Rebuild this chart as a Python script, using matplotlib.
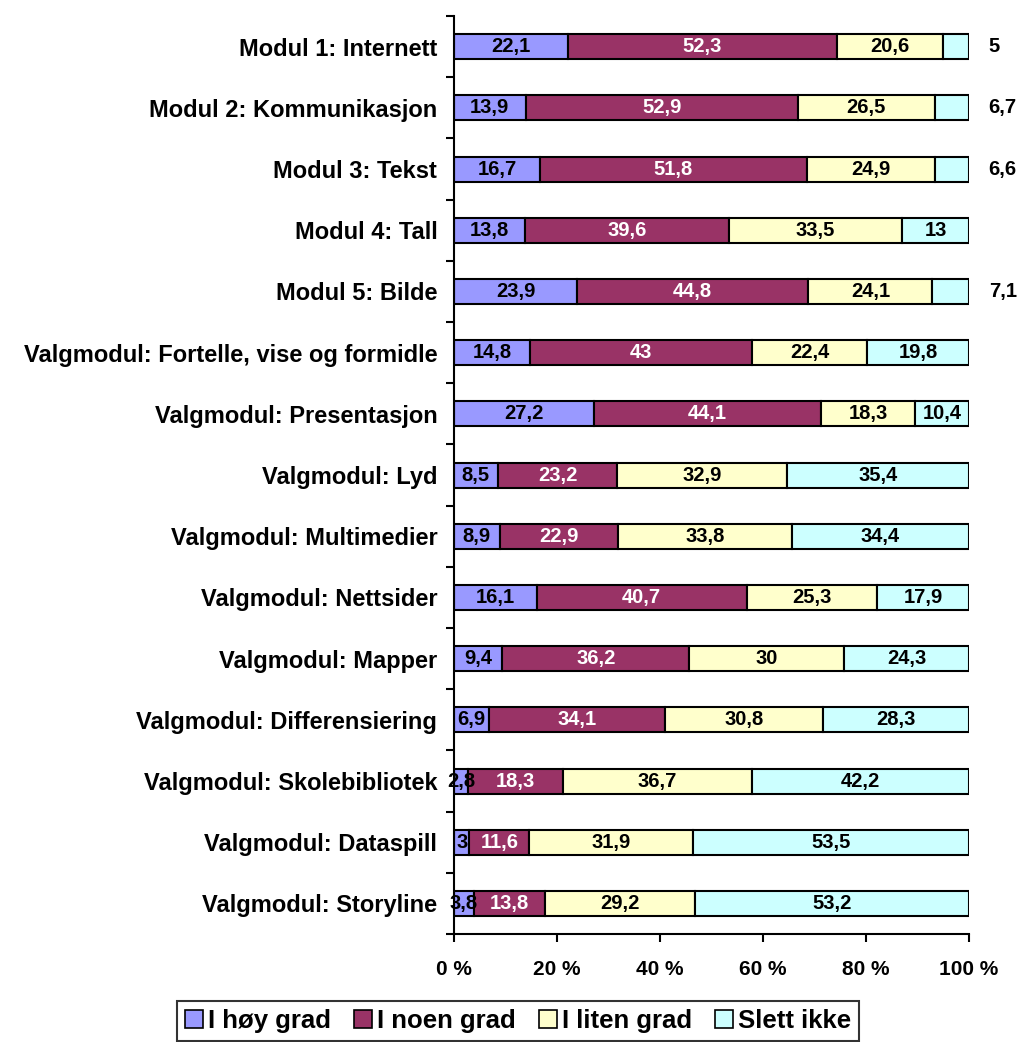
import numpy as np
import matplotlib
matplotlib.use('Agg')
import matplotlib.pyplot as plt
from matplotlib.ticker import FixedLocator

plt.rcParams['font.family'] = ['Liberation Sans', 'DejaVu Sans']
plt.rcParams['font.weight'] = 'bold'

categories = ['Modul 1: Internett', 'Modul 2: Kommunikasjon', 'Modul 3: Tekst',
              'Modul 4: Tall', 'Modul 5: Bilde',
              'Valgmodul: Fortelle, vise og formidle', 'Valgmodul: Presentasjon',
              'Valgmodul: Lyd', 'Valgmodul: Multimedier', 'Valgmodul: Nettsider',
              'Valgmodul: Mapper', 'Valgmodul: Differensiering',
              'Valgmodul: Skolebibliotek', 'Valgmodul: Dataspill',
              'Valgmodul: Storyline']
series_names = ['I høy grad', 'I noen grad', 'I liten grad', 'Slett ikke']
hoy = [22.1, 13.9, 16.7, 13.8, 23.9, 14.8, 27.2, 8.5, 8.9, 16.1, 9.4, 6.9, 2.8, 3, 3.8]
noen = [52.3, 52.9, 51.8, 39.6, 44.8, 43, 44.1, 23.2, 22.9, 40.7, 36.2, 34.1, 18.3, 11.6, 13.8]
liten = [20.6, 26.5, 24.9, 33.5, 24.1, 22.4, 18.3, 32.9, 33.8, 25.3, 30, 30.8, 36.7, 31.9, 29.2]
slett = [5, 6.7, 6.6, 13, 7.1, 19.8, 10.4, 35.4, 34.4, 17.9, 24.3, 28.3, 42.2, 53.5, 53.2]
colors = ['#9999FF', '#993366', '#FFFFCC', '#CCFFFF']
text_colors = ['#000000', '#FFFFFF', '#000000', '#000000']

data = np.array([hoy, noen, liten, slett], dtype=float)
shares = data / data.sum(axis=0) * 100

fig = plt.figure(figsize=(10.22, 10.42), dpi=100)
ax = fig.add_axes([0.4442, 0.1036, 0.5040, 0.8810])

n = len(categories)
y = np.arange(n)
left = np.zeros(n)
for k in range(4):
    ax.barh(y, shares[k], left=left, height=0.41, color=colors[k],
            edgecolor='black', linewidth=1.5, label=series_names[k])
    for i in range(n):
        val = data[k, i]
        txt = ('%g' % val).replace('.', ',')
        if k == 3 and val < 8:
            # small last segment: label sits to the right of the bar
            ax.text(103.8, y[i], txt, ha='left', va='center', fontsize=14.5,
                    fontweight='bold', color='black', clip_on=False)
        else:
            ax.text(left[i] + shares[k, i] / 2, y[i], txt, ha='center', va='center',
                    fontsize=14.5, fontweight='bold', color=text_colors[k])
    left = left + shares[k]

ax.set_ylim(n - 0.5, -0.5)
ax.set_xlim(0, 100)
ax.set_yticks(y)
ax.set_yticklabels(categories, fontsize=17, fontweight='bold')
ax.yaxis.set_minor_locator(FixedLocator(np.arange(-0.5, n, 1)))
ax.tick_params(axis='y', which='major', length=0, pad=12)
ax.tick_params(axis='y', which='minor', length=6, width=1.5)
ax.set_xticks([0, 20, 40, 60, 80, 100])
ax.set_xticklabels(['0 %', '20 %', '40 %', '60 %', '80 %', '100 %'],
                   fontsize=15, fontweight='bold')
ax.tick_params(axis='x', length=6, width=1.5, pad=13)
for s in ['top', 'right']:
    ax.spines[s].set_visible(False)
for s in ['left', 'bottom']:
    ax.spines[s].set_linewidth(1.5)

leg = fig.legend(loc='center', bbox_to_anchor=(0.507, 0.0202), ncol=4,
                 frameon=True, fancybox=False, handlelength=0.7,
                 handleheight=0.7, handletextpad=0.2, columnspacing=0.9,
                 borderpad=0.3, prop={'weight': 'bold', 'size': 18.5})
leg.get_frame().set_edgecolor('black')
leg.get_frame().set_linewidth(1.5)
for h in leg.legend_handles:
    h.set_linewidth(1.2)

fig.savefig('out.png', dpi=100)
